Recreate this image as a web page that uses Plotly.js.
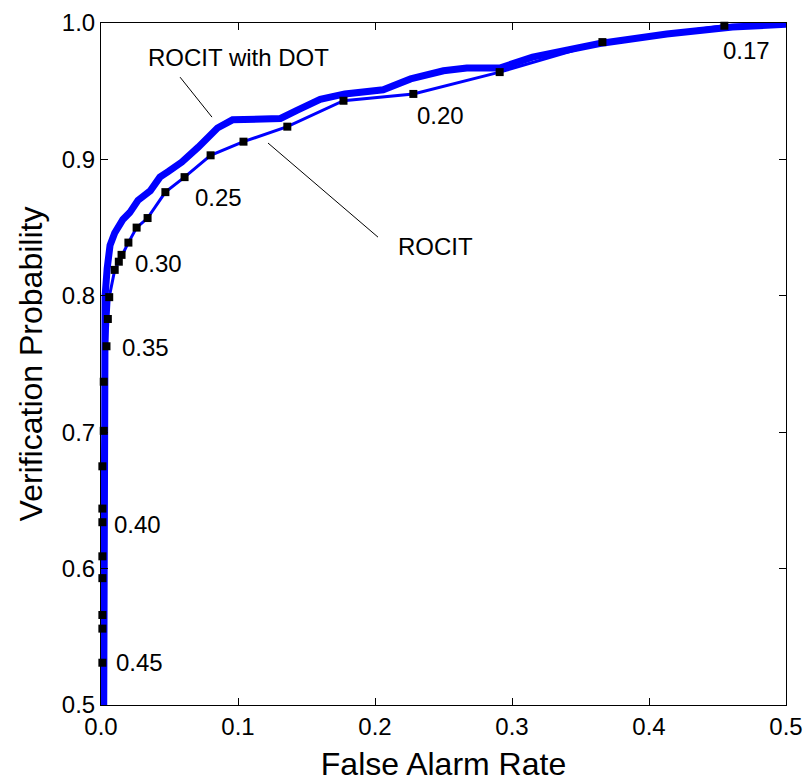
<!DOCTYPE html>
<html>
<head>
<meta charset="utf-8">
<script src="https://cdn.plot.ly/plotly-3.0.1.min.js"></script>
<style>html,body{margin:0;padding:0;background:#fff;}#chart{width:804px;height:782px;}</style>
</head>
<body>
<div id="chart"></div>
<script>
// ROCIT with DOT (thick curve)
const dotX = [0.002, 0.002, 0.003, 0.0045, 0.0066, 0.010, 0.016, 0.021, 0.027, 0.036, 0.043, 0.049, 0.059, 0.071, 0.085, 0.096, 0.131, 0.143, 0.160, 0.178, 0.206, 0.226, 0.250, 0.267, 0.291, 0.315, 0.364, 0.413, 0.461, 0.500];
const dotY = [0.500, 0.760, 0.800, 0.820, 0.837, 0.846, 0.856, 0.861, 0.870, 0.877, 0.887, 0.891, 0.898, 0.909, 0.923, 0.929, 0.930, 0.936, 0.944, 0.948, 0.951, 0.959, 0.965, 0.967, 0.967, 0.975, 0.985, 0.992, 0.997, 0.999];

// ROCIT (thin curve) threshold points
const rocitX = [0.001, 0.001, 0.001, 0.001, 0.001, 0.001, 0.001, 0.001, 0.002, 0.002, 0.004, 0.005, 0.006, 0.010, 0.013, 0.015, 0.020, 0.026, 0.034, 0.047, 0.061, 0.080, 0.104, 0.136, 0.177, 0.228, 0.291, 0.366, 0.455];
const rocitY = [0.531, 0.556, 0.566, 0.593, 0.609, 0.634, 0.644, 0.675, 0.701, 0.737, 0.763, 0.783, 0.799, 0.819, 0.825, 0.830, 0.839, 0.850, 0.857, 0.876, 0.887, 0.903, 0.913, 0.924, 0.943, 0.948, 0.964, 0.986, 0.998];
// line end points of the ROCIT curve
const rocitStart = [0.001, 0.500];
const rocitEnd = [0.500, 1.000];

// threshold labels
const thrText = ["0.45", "0.40", "0.35", "0.30", "0.25", "0.20", "0.17"];
const thrX = [0.0095, 0.008, 0.0139, 0.0234, 0.0672, 0.229, 0.4526];
const thrY = [0.531, 0.632, 0.762, 0.824, 0.872, 0.932, 0.980];

// tick values
const xTicks = [0.0, 0.1, 0.2, 0.3, 0.4, 0.5];
const yTicks = [0.5, 0.6, 0.7, 0.8, 0.9, 1.0];

const FONT = "Liberation Sans, Arial, Helvetica, sans-serif";
const BLUE = "#0000ff";

const lineX = [rocitStart[0]].concat(rocitX, [rocitEnd[0]]);
const lineY = [rocitStart[1]].concat(rocitY, [rocitEnd[1]]);

const traces = [
  {x: dotX, y: dotY, mode: "lines", line: {color: BLUE, width: 7}, hoverinfo: "skip"},
  {x: lineX, y: lineY, mode: "lines", line: {color: BLUE, width: 3}, hoverinfo: "skip"},
  {x: rocitX, y: rocitY, mode: "markers", cliponaxis: false,
   marker: {symbol: "square", size: 8, color: "#000"}, hoverinfo: "skip"}
];

const annotations = thrText.map((t, i) => ({
  x: thrX[i], y: thrY[i], xref: "x", yref: "y", text: t, showarrow: false,
  xanchor: "left", yanchor: "middle", font: {family: FONT, size: 24, color: "#000"}
}));
annotations.push({x: 0.100, y: 0.975, xref: "x", yref: "y", text: "ROCIT with DOT", showarrow: false,
  xanchor: "center", yanchor: "middle", font: {family: FONT, size: 24, color: "#000"}});
annotations.push({x: 0.2438, y: 0.836, xref: "x", yref: "y", text: "ROCIT", showarrow: false,
  xanchor: "center", yanchor: "middle", font: {family: FONT, size: 24, color: "#000"}});

const shapes = [
  {type: "line", xref: "x", yref: "y", x0: 0.0577, y0: 0.9603, x1: 0.081, y1: 0.931, line: {color: "#000", width: 1}},
  {type: "line", xref: "x", yref: "y", x0: 0.1219, y0: 0.912, x1: 0.2022, y1: 0.843, line: {color: "#000", width: 1}}
];

const axisCommon = {
  showgrid: false, zeroline: false, showline: true, linecolor: "#000", linewidth: 1,
  mirror: "ticks", ticks: "inside", ticklen: 7, tickcolor: "#000", tickwidth: 1,
  tickformat: ".1f", tickfont: {family: FONT, size: 24, color: "#000"}
};

const layout = {
  width: 804, height: 782,
  margin: {l: 101, r: 18, t: 23, b: 77, autoexpand: false},
  paper_bgcolor: "#fff", plot_bgcolor: "#fff",
  showlegend: false,
  font: {family: FONT, color: "#000"},
  xaxis: Object.assign({}, axisCommon, {
    range: [0, 0.5], tickvals: xTicks,
    title: {text: "False Alarm Rate", font: {family: FONT, size: 32, color: "#000"}, standoff: 13}
  }),
  yaxis: Object.assign({}, axisCommon, {
    range: [0.5, 1.0], tickvals: yTicks,
    title: {text: "Verification Probability", font: {family: FONT, size: 32, color: "#000"}, standoff: 9}
  }),
  annotations: annotations,
  shapes: shapes
};

Plotly.newPlot("chart", traces, layout, {displayModeBar: false, staticPlot: true});
</script>
</body>
</html>
